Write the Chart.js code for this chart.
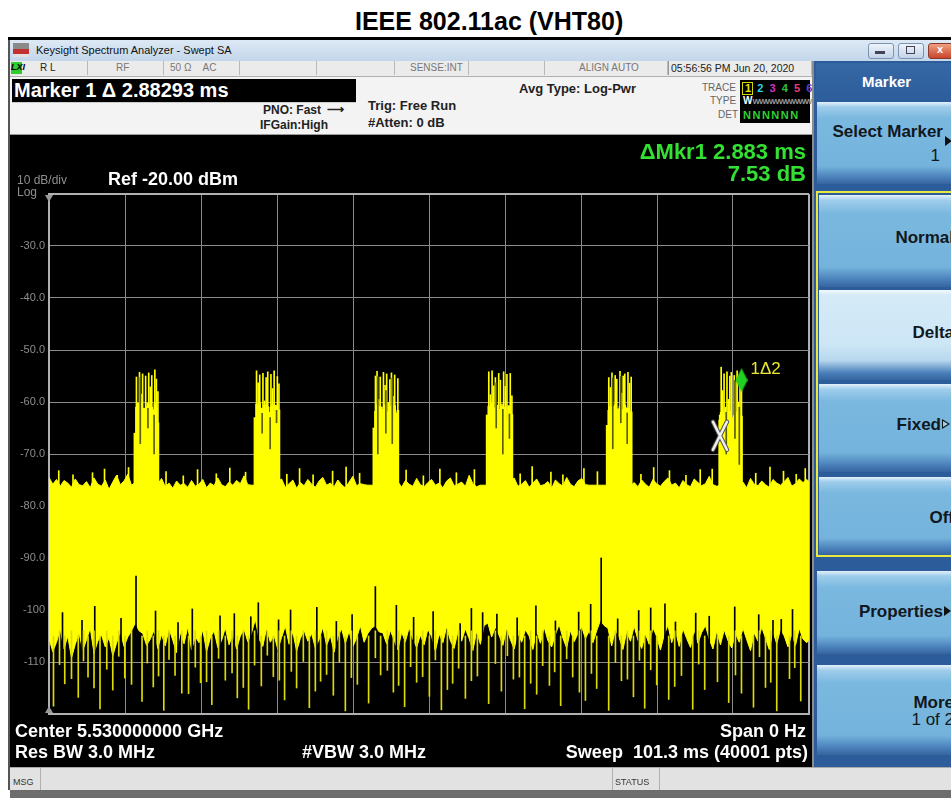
<!DOCTYPE html>
<html>
<head>
<meta charset="utf-8">
<title>IEEE 802.11ac (VHT80)</title>
<script src="https://cdn.jsdelivr.net/npm/chart.js@4.4.1/dist/chart.umd.min.js"></script>
<style>
body{margin:0;width:951px;height:798px;overflow:hidden;position:relative;background:#fff;font-family:"Liberation Sans",Arial,sans-serif;}
.a{position:absolute;white-space:nowrap;line-height:1;}
.b{font-weight:bold;}
.box{position:absolute;}
.key{position:absolute;left:817px;width:150px;background:linear-gradient(#e4f1fa 0,#9fcdeb 6%,#7ab8df 20%,#74b3dc 78%,#4a80ba 92%,#36649f 100%);}
.key.sel{background:linear-gradient(#f2f9fd 0,#d4eaf7 6%,#cde6f5 60%,#b8d8ee 78%,#4a80ba 92%,#36649f 100%);}
.kl{position:absolute;right:-3px;font-weight:bold;font-size:17px;color:#111820;line-height:1;white-space:nowrap;}
.sr{position:absolute;top:61px;height:14px;border-right:1px solid #b8b8b8;}
</style>
</head>
<body>
<div class="a b" style="left:355px;top:9px;font-size:25px;color:#000;">IEEE 802.11ac (VHT80)</div>

<!-- window frame -->
<div class="box" style="left:8px;top:37px;width:943px;height:3px;background:#000;"></div>
<div class="box" style="left:8px;top:40px;width:943px;height:21px;background:linear-gradient(#dde9f5,#c3d6ea);"></div>
<div class="box" style="left:8px;top:40px;width:2px;height:750px;background:#555;"></div>
<div class="box" style="left:13px;top:43px;width:16px;height:14px;background:linear-gradient(#8a8a8a 0,#8a8a8a 45%,#c43030 45%,#c43030 75%,#e0e0e0 75%);"></div>
<div class="a" style="left:36px;top:45px;font-size:11px;color:#111;">Keysight Spectrum Analyzer - Swept SA</div>
<div class="box" style="left:868px;top:43px;width:24px;height:14px;border:1px solid #7d93b0;border-radius:3px;background:linear-gradient(#eef4fb,#c2d3e8);"></div>
<div class="box" style="left:875px;top:51px;width:10px;height:3px;background:#445;"></div>
<div class="box" style="left:898px;top:43px;width:24px;height:14px;border:1px solid #7d93b0;border-radius:3px;background:linear-gradient(#eef4fb,#c2d3e8);"></div>
<div class="box" style="left:906px;top:46px;width:7px;height:6px;border:1px solid #445;"></div>
<div class="box" style="left:928px;top:43px;width:26px;height:14px;border:1px solid #8a3a2a;border-radius:3px;background:linear-gradient(#f0a080,#c8452c);"></div>
<div class="a b" style="left:937px;top:44px;font-size:11px;color:#fff;">x</div>

<!-- status row -->
<div class="box" style="left:10px;top:61px;width:802px;height:15px;background:#ebebeb;border-bottom:1px solid #b0b0b0;"></div>
<div class="box" style="left:11px;top:62px;width:11px;height:12px;background:#2ecc2e;"></div>
<div class="a b" style="left:11px;top:63px;font-size:9px;color:#000;font-style:italic;">LXI</div>
<div class="sr" style="left:10px;width:77px;"></div>
<div class="sr" style="left:88px;width:75px;"></div>
<div class="sr" style="left:164px;width:75px;"></div>
<div class="sr" style="left:240px;width:76px;"></div>
<div class="sr" style="left:317px;width:77px;"></div>
<div class="sr" style="left:395px;width:73px;"></div>
<div class="sr" style="left:469px;width:75px;"></div>
<div class="sr" style="left:545px;width:122px;"></div>
<div class="sr" style="left:668px;width:142px;border-left:1px solid #999;"></div>
<div class="a" style="left:40px;top:63px;font-size:10px;color:#222;">R L</div>
<div class="a" style="left:116px;top:63px;font-size:10px;color:#777;">RF</div>
<div class="a" style="left:170px;top:63px;font-size:10px;color:#777;">50 Ω&nbsp;&nbsp;&nbsp;&nbsp;AC</div>
<div class="a" style="left:410px;top:63px;font-size:10px;color:#777;">SENSE:INT</div>
<div class="a" style="left:579px;top:63px;font-size:10px;color:#777;">ALIGN AUTO</div>
<div class="a" style="left:671px;top:63px;font-size:10.5px;color:#222;">05:56:56 PM Jun 20, 2020</div>

<!-- marker / header area -->
<div class="box" style="left:10px;top:77px;width:802px;height:57px;background:#f3f3f3;border-bottom:2px solid #9a9a9a;"></div>
<div class="box" style="left:12px;top:79px;width:344px;height:23px;background:#000;"></div>
<div class="a b" style="left:14px;top:80px;font-size:20px;color:#fff;">Marker 1 Δ 2.88293 ms</div>
<div class="box" style="left:12px;top:102px;width:344px;height:30px;border-top:1px solid #ccc;"></div>
<div class="a b" style="left:263px;top:104px;font-size:12px;color:#222;">PNO: Fast</div>
<div class="a b" style="left:327px;top:103px;font-size:12px;color:#222;">⟶</div>
<div class="a b" style="left:260px;top:119px;font-size:12px;color:#222;">IFGain:High</div>
<div class="a b" style="left:368px;top:99px;font-size:13px;color:#222;">Trig: Free Run</div>
<div class="a b" style="left:368px;top:116px;font-size:13px;color:#222;">#Atten: 0 dB</div>
<div class="a b" style="left:519px;top:82px;font-size:13px;color:#222;">Avg Type: Log-Pwr</div>
<div class="a" style="left:702px;top:83px;font-size:10px;color:#666;">TRACE</div>
<div class="a" style="left:710px;top:96px;font-size:10px;color:#666;">TYPE</div>
<div class="a" style="left:718px;top:110px;font-size:10px;color:#666;">DET</div>
<div class="box" style="left:740px;top:80px;width:70px;height:43px;background:#000;"></div>
<div class="box" style="left:742px;top:82px;width:9px;height:11px;border:1px solid #d8d800;"></div>
<div class="a b" style="left:745px;top:83px;font-size:11px;"><span style="color:#e8e800">1</span>&nbsp;&nbsp;<span style="color:#30d0e0">2</span>&nbsp;&nbsp;<span style="color:#d030d0">3</span>&nbsp;&nbsp;<span style="color:#30c040">4</span>&nbsp;&nbsp;<span style="color:#e04080">5</span>&nbsp;&nbsp;<span style="color:#6040d0">6</span></div>
<div class="a b" style="left:743px;top:96px;font-size:10px;color:#fff;">W<span style="color:#999;font-size:8px;letter-spacing:-1px;">WWWWWWWWWW</span></div>
<div class="a b" style="left:743px;top:110px;font-size:11px;color:#30d030;letter-spacing:1.5px;">NNNNNN</div>

<!-- screen -->
<div class="box" style="left:10px;top:135px;width:802px;height:632px;background:#000;"></div>
<canvas id="sa" width="806" height="632" style="position:absolute;left:10px;top:135px;width:806px;height:632px;"></canvas>
<div class="box" style="left:812px;top:61px;width:2px;height:706px;background:#8c8c8c;"></div>
<div class="a b" style="right:145px;top:141px;font-size:22px;color:#33e033;">ΔMkr1 2.883 ms</div>
<div class="a b" style="right:145px;top:163px;font-size:22px;color:#33e033;">7.53 dB</div>
<div class="a" style="left:17px;top:174px;font-size:12px;color:#8e8e8e;">10 dB/div</div>
<div class="a b" style="left:108px;top:170px;font-size:18px;color:#fff;">Ref -20.00 dBm</div>
<div class="a" style="left:17px;top:186px;font-size:12px;color:#8e8e8e;">Log</div>
<div class="box" style="left:45px;top:195px;width:0;height:0;border-left:4px solid transparent;border-right:4px solid transparent;border-top:7px solid #9a9a9a;"></div>
<div class="box" style="left:45px;top:706px;width:0;height:0;border-left:4px solid transparent;border-right:4px solid transparent;border-bottom:7px solid #9a9a9a;"></div>
<div class="a b" style="left:15px;top:722px;font-size:18px;color:#fff;">Center 5.530000000 GHz</div>
<div class="a b" style="left:15px;top:743px;font-size:18px;color:#fff;">Res BW 3.0 MHz</div>
<div class="a b" style="left:302px;top:743px;font-size:18px;color:#fff;">#VBW 3.0 MHz</div>
<div class="a b" style="right:145px;top:722px;font-size:18px;color:#fff;">Span 0 Hz</div>
<div class="a b" style="right:143px;top:743px;font-size:18px;color:#fff;">Sweep&nbsp;&nbsp;101.3 ms (40001 pts)</div>

<!-- bottom bar -->
<div class="box" style="left:10px;top:767px;width:941px;height:23px;background:#e2e2e2;border-top:1px solid #aaa;"></div>
<div class="box" style="left:10px;top:790px;width:941px;height:8px;background:#6d6d6d;"></div>
<div class="box" style="left:40px;top:768px;width:1px;height:22px;background:#b0b0b0;"></div>
<div class="box" style="left:612px;top:768px;width:46px;height:22px;border-left:1px solid #b0b0b0;border-right:1px solid #b0b0b0;"></div>
<div class="a" style="left:13px;top:778px;font-size:9px;color:#333;">MSG</div>
<div class="a" style="left:615px;top:778px;font-size:9px;color:#333;">STATUS</div>

<!-- softkey panel -->
<div class="box" style="left:814px;top:61px;width:137px;height:706px;background:#2c5c99;"></div>
<div class="box" style="left:816px;top:63px;width:140px;height:38px;background:linear-gradient(#3668a6,#2d5d9b);"></div>
<div class="a b" style="left:862px;top:74px;font-size:15px;color:#fff;">Marker</div>
<div class="key" style="top:102px;height:82px;"></div>
<div class="kl" style="right:8px;top:123px;">Select Marker</div>
<div class="box" style="left:945px;top:136px;width:0;height:0;border-top:5px solid transparent;border-bottom:5px solid transparent;border-left:7px solid #111;"></div>
<div class="kl" style="right:11px;top:147px;font-weight:normal;">1</div>
<div class="box" style="left:816px;top:191px;width:140px;height:366px;border:2px solid #e8e840;box-sizing:border-box;"></div>
<div class="key" style="top:195px;height:92px;left:819px;"></div>
<div class="kl" style="top:229px;">Normal</div>
<div class="key sel" style="top:290px;height:90px;left:819px;"></div>
<div class="kl" style="top:324px;">Delta</div>
<div class="key" style="top:384px;height:88px;left:819px;"></div>
<div class="kl" style="right:10px;top:416px;">Fixed</div>
<div class="box" style="left:942px;top:419px;width:0;height:0;border-top:5px solid transparent;border-bottom:5px solid transparent;border-left:8px solid #111;"></div>
<div class="box" style="left:943px;top:421px;width:0;height:0;border-top:3px solid transparent;border-bottom:3px solid transparent;border-left:5px solid #9fcdeb;"></div>
<div class="key" style="top:477px;height:78px;left:819px;"></div>
<div class="kl" style="top:509px;">Off</div>
<div class="key" style="top:571px;height:83px;"></div>
<div class="kl" style="right:8px;top:603px;">Properties</div>
<div class="box" style="left:944px;top:606px;width:0;height:0;border-top:5px solid transparent;border-bottom:5px solid transparent;border-left:7px solid #111;"></div>
<div class="key" style="top:665px;height:90px;"></div>
<div class="kl" style="top:694px;">More</div>
<div class="kl" style="top:711px;font-weight:normal;">1 of 2</div>

<script>
'use strict';

var STEP = 0.5;          // ms between floor samples
var SWEEP = 101.3;       // ms, full span of the x axis
var FLOOR_BASE = -80;    // dBm, where burst and spike lines start

// upper edge of the noise floor, one value every 0.5 ms (0 .. 101.5 ms)
var floorTop = [
	-74.5,-75.8,-74.9,-76.2,-75.1,-75.6,-76.4,-74.8,-75.9,-76.1,
	-75.3,-76.5,-74.6,-75.8,-76.2,-75.0,-76.8,-75.4,-74.1,-75.9,
	-75.2,-73.9,-76.0,-75.5,-76.0,-76.0,-76.0,-76.0,-76.0,-75.8,
	-74.7,-76.3,-75.6,-76.6,-75.2,-76.0,-75.7,-76.4,-75.1,-76.2,
	-75.8,-74.9,-76.5,-75.6,-76.1,-74.6,-75.9,-76.3,-75.4,-76.0,
	-75.1,-75.7,-74.2,-75.9,-76.0,-76.0,-76.0,-76.0,-76.0,-76.0,
	-76.0,-75.3,-74.8,-76.4,-75.7,-75.0,-76.6,-75.5,-76.1,-74.9,
	-75.8,-76.4,-75.2,-74.5,-76.0,-75.6,-76.3,-75.0,-75.9,-76.5,
	-75.4,-74.3,-76.1,-75.7,-75.9,-76.0,-76.0,-76.0,-76.0,-76.0,
	-76.0,-76.0,-76.0,-75.3,-76.4,-75.1,-75.8,-76.2,-74.7,-75.9,
	-76.3,-75.5,-74.9,-76.0,-75.6,-76.5,-75.2,-74.6,-76.1,-75.8,
	-75.4,-76.2,-74.1,-75.7,-76.3,-76.0,-76.0,-76.0,-76.0,-76.0,
	-76.0,-76.0,-76.0,-75.5,-74.6,-76.2,-75.8,-75.1,-76.4,-75.6,
	-74.8,-76.1,-75.9,-75.3,-76.6,-75.0,-75.7,-76.2,-74.5,-75.8,
	-76.3,-75.2,-74.7,-75.9,-76.0,-76.0,-76.0,-76.0,-76.0,-76.0,
	-76.0,-76.0,-76.0,-75.6,-74.4,-76.1,-75.5,-76.3,-75.0,-75.8,
	-76.4,-74.9,-75.7,-76.2,-75.3,-74.6,-76.0,-75.6,-76.5,-75.1,
	-75.9,-76.3,-74.8,-75.5,-76.1,-75.7,-74.3,-75.9,-76.2,-76.0,
	-76.0,-76.0,-76.0,-76.0,-76.0,-75.4,-76.5,-74.7,-75.8,-76.1,
	-75.2,-75.9,-76.4,-74.9,-75.6,-76.0,-75.3,-74.5,-76.2,-75.7,
	-74.8,-75.5,-74.9,-75.6
];

// lower edge of the solid yellow band, same time steps
var floorBottom = [
	-105.5,-108.0,-106.2,-103.8,-107.5,-105.0,-109.2,-106.6,-104.4,-107.8,
	-105.7,-103.5,-108.3,-106.0,-104.8,-107.1,-105.3,-108.8,-106.4,-104.1,
	-107.0,-105.2,-104.0,-102.5,-104.0,-104.5,-106.8,-105.6,-103.9,-107.4,
	-104.7,-106.9,-103.6,-105.8,-108.2,-104.3,-106.5,-103.2,-107.7,-105.1,
	-106.3,-103.8,-108.0,-105.4,-104.0,-107.2,-105.9,-103.4,-106.7,-104.6,
	-107.5,-105.0,-103.7,-106.1,-104.4,-101.8,-105.6,-107.0,-103.5,-106.2,
	-104.8,-107.6,-105.3,-103.1,-106.6,-104.2,-107.9,-105.5,-103.9,-106.0,
	-104.5,-107.3,-105.7,-103.3,-106.8,-104.9,-108.1,-105.2,-103.6,-106.4,
	-104.1,-107.0,-105.4,-103.0,-106.2,-104.5,-103.5,-103.0,-104.2,-104.4,
	-106.5,-103.9,-105.8,-107.7,-104.3,-106.1,-103.4,-105.6,-107.2,-104.8,
	-106.7,-103.7,-105.1,-107.9,-104.6,-106.3,-103.2,-105.9,-107.4,-104.2,
	-106.0,-103.6,-105.5,-107.8,-104.1,-106.6,-103.0,-102.5,-105.2,-103.3,
	-104.9,-106.8,-103.5,-105.7,-107.5,-104.4,-106.2,-103.8,-105.0,-107.6,
	-104.0,-106.4,-103.3,-105.9,-107.1,-104.7,-102.8,-105.4,-107.3,-103.9,
	-106.1,-104.5,-103.2,-105.5,-104.0,-106.3,-104.0,-102.0,-103.0,-103.5,
	-106.9,-103.8,-105.3,-107.6,-104.2,-106.0,-103.1,-105.8,-107.4,-104.6,
	-106.6,-103.4,-105.1,-107.7,-104.8,-102.9,-106.3,-104.0,-107.0,-103.6,
	-105.5,-107.2,-103.9,-106.4,-104.3,-103.0,-105.6,-107.5,-104.1,-106.7,
	-103.8,-105.9,-107.3,-104.5,-106.2,-103.5,-105.7,-107.8,-104.4,-106.0,
	-103.3,-105.4,-107.6,-104.2,-106.5,-103.7,-105.0,-107.1,-104.7,-106.8,
	-103.5,-105.6,-106.3,-105.2
];

// short peaks sticking out of the top of the floor
var topSpikeTimes = [1.3, 3.2, 5.8, 7.4, 9.1, 10.6, 15.6, 17.9, 19.8, 22.3, 24.1, 26.2, 31.7, 33.4, 35.2, 37.8, 39.6, 41.4, 47.6, 49.9,
	52.1, 54.3, 56.7, 62.8, 64.4, 66.9, 68.5, 71.3, 73.1, 78.9, 80.6, 82.7, 84.9, 86.8, 88.4, 94.2, 96.1, 97.9, 99.6, 100.8];
var topSpikeLevels = [-73.2, -74.0, -73.6, -72.9, -74.1, -72.6, -73.4, -74.2, -73.0, -73.8, -72.7, -73.5, -73.9, -72.8, -74.0, -73.3, -72.5, -73.7, -73.1, -74.2,
	-72.9, -73.6, -73.0, -73.8, -72.4, -73.5, -74.0, -72.8, -73.4, -73.9, -72.6, -73.2, -74.1, -73.0, -72.9, -73.7, -72.5, -73.3, -73.9, -72.8];

// deep dips hanging below the floor
var bottomSpikeTimes = [0.6, 2.1, 3.9, 5.2, 6.8, 8.5, 10.1, 12.4, 13.9, 15.3, 16.8, 18.6, 20.2, 21.7, 23.5, 25.1, 26.6, 28.3, 29.9, 31.4,
	33.0, 34.7, 36.2, 37.9, 39.5, 41.1, 42.6, 44.2, 45.9, 47.4, 49.0, 50.7, 52.3, 53.8, 55.5, 57.1, 58.6, 60.3, 61.9, 63.4,
	65.0, 66.7, 68.2, 69.8, 71.5, 73.0, 74.6, 76.3, 77.9, 79.4, 81.0, 82.6, 84.3, 85.8, 87.4, 89.1, 90.6, 92.3, 93.9, 95.5,
	97.0, 98.7, 100.2];
var bottomSpikeLevels = [-118.5, -114.2, -116.8, -112.9, -119.0, -115.4, -113.1, -117.6, -114.8, -119.3, -112.6, -116.1, -114.0, -118.2, -113.5, -116.9, -119.1, -114.6, -112.8, -117.3,
	-115.0, -118.8, -113.7, -116.4, -119.4, -114.3, -117.9, -112.5, -115.8, -118.6, -113.9, -116.6, -119.2, -114.1, -117.0, -112.7, -118.0, -115.6, -113.3, -119.0,
	-116.2, -114.5, -118.4, -112.9, -117.4, -115.1, -119.3, -113.6, -116.7, -118.9, -114.4, -117.2, -112.6, -119.1, -115.3, -113.8, -117.8, -116.0, -118.7, -114.9,
	-119.4, -113.2, -117.5];

// shallower dips in between
var shallowDipTimes = [1.4, 3.0, 4.6, 6.0, 7.7, 9.3, 11.0, 13.1, 14.6, 16.0, 17.7, 19.5, 21.0, 22.6, 24.4, 25.9, 27.4, 29.1, 30.7, 32.3,
	33.9, 35.5, 37.0, 38.7, 40.3, 43.5, 45.1, 46.6, 48.2, 49.8, 51.5, 53.1, 54.6, 56.3, 59.5, 61.1, 62.7, 64.2, 65.8, 67.4,
	69.0, 70.7, 72.3, 75.5, 77.1, 78.7, 80.2, 83.4, 86.6, 91.5, 94.7, 96.2, 99.4];
var shallowDipLevels = [-110.5, -113.2, -109.8, -115.0, -111.4, -108.9, -114.3, -110.2, -112.7, -109.5, -116.0, -111.0, -113.8, -109.3, -112.1, -114.9, -110.6, -108.7, -113.5, -111.8,
	-109.9, -115.6, -112.4, -110.0, -113.0, -109.2, -111.6, -114.5, -110.9, -112.8, -109.6, -115.3, -111.2, -113.6, -110.3, -108.8, -112.9, -114.1, -110.7, -111.9,
	-109.4, -115.8, -112.2, -110.1, -113.3, -109.7, -111.5, -114.7, -110.4, -112.5, -109.0, -113.9, -111.1];

// black gaps reaching up into the floor, the tall ones sit at burst starts
var floorGapTimes = [1.8, 4.4, 6.1, 9.6, 14.2, 17.2, 19.1, 22.8, 24.7, 27.9, 30.6, 32.2, 35.7, 38.3, 40.4, 46.3, 48.6, 51.2, 54.8, 56.3,
	59.7, 62.4, 64.9, 67.5, 70.6, 72.2, 75.8, 78.6, 80.2, 83.5, 86.2, 88.0, 91.4, 94.6, 96.5, 99.1, 26.9, 57.8, 82.1, 97.6,
	11.6, 43.5, 73.6];
var floorGapLevels = [-100.5, -102.0, -99.3, -101.6, -100.2, -102.4, -99.8, -101.1, -100.7, -98.6, -101.9, -100.0, -99.5, -102.2, -100.9, -99.1, -101.4, -100.3, -102.6, -99.7,
	-100.8, -101.5, -99.2, -102.1, -100.4, -98.9, -101.7, -100.1, -99.6, -102.3, -100.6, -101.2, -99.4, -100.9, -102.0, -99.9, -101.3, -100.5, -98.8, -101.8,
	-93.5, -95.5, -90.0];

// the six VHT80 bursts: start (ms), length (ms), 16 lines each
var burstStarts = [11.45, 27.45, 43.3, 58.4, 74.4, 89.4];
var burstWidths = [3.07, 3.2, 3.2, 3.3, 3.2, 2.9];
var burstPeaks = [
	[-66.5, -55.2, -61.0, -54.3, -58.5, -54.6, -62.4, -55.0, -60.2, -54.4, -57.1, -54.9, -61.5, -53.8, -55.6, -58.0],
	[-64.0, -54.0, -56.3, -54.8, -61.2, -54.5, -59.8, -55.3, -54.2, -62.0, -54.7, -57.4, -54.0, -60.6, -55.1, -56.5],
	[-65.2, -55.0, -54.1, -59.5, -55.2, -61.0, -54.3, -56.8, -54.6, -60.1, -55.7, -54.4, -58.9, -54.8, -62.3, -55.5],
	[-63.5, -54.2, -58.6, -54.0, -56.9, -55.3, -62.1, -54.5, -55.8, -60.4, -54.2, -57.0, -54.7, -61.3, -54.5, -58.8],
	[-65.0, -55.3, -57.2, -54.4, -60.8, -54.9, -55.6, -62.0, -54.1, -58.3, -55.0, -54.6, -61.1, -54.3, -56.4, -55.2],
	[-62.5, -53.3, -57.8, -54.6, -61.0, -54.2, -59.5, -55.0, -54.3, -63.0, -54.9, -56.2, -54.0, -60.0, -55.6, -57.0]
];
var burstBody = [
	[-66.0, -61.0, -60.2, -61.5, -60.0, -62.0, -61.2, -63.0, -60.8, -60.4, -62.2, -61.0, -63.5, -60.3, -61.1, -64.0],
	[-63.0, -60.4, -61.0, -60.2, -62.5, -61.3, -60.6, -62.0, -60.9, -63.2, -61.0, -60.5, -61.8, -62.6, -60.7, -61.5],
	[-65.0, -61.8, -60.5, -62.0, -60.9, -61.4, -63.0, -60.6, -61.9, -62.4, -60.8, -61.2, -63.4, -60.7, -62.1, -61.6],
	[-62.5, -60.8, -61.5, -60.3, -62.8, -61.1, -60.6, -63.0, -61.4, -60.9, -62.2, -61.0, -63.6, -60.7, -61.8, -62.4],
	[-64.5, -61.6, -60.9, -62.3, -61.0, -60.5, -62.9, -61.3, -60.8, -63.1, -61.5, -60.6, -62.0, -61.2, -63.3, -61.9],
	[-63.5, -62.0, -61.5, -63.0, -62.4, -65.0, -62.1, -61.8, -63.4, -68.0, -62.6, -61.9, -63.2, -62.3, -66.0, -62.7]
];
// darker trace lines running through each burst
var burstGapIdx = [[3, 8, 12], [4, 9, 13], [2, 7, 11], [5, 9, 13], [3, 8, 12], [4, 10, 13]];
var burstGapLow = [[-68, -65, -70], [-66, -69, -64], [-70, -66, -68], [-65, -70, -67], [-69, -64, -68], [-70, -67, -72]];

// marker 1 (reference X) and marker 1 delta 2 (diamond)
var markerRef = {x: 89.43, y: -66.5};
var markerDelta = {x: 92.31, y: -55.8};

var colors = {
	trace : '#ffff00',
	traceDip : '#dcdc00',
	traceDark : '#5c5c00',
	grid : '#8a8a8a',
	frame : '#b0b0b0',
	tick : '#8e8e8e',
	marker : '#22d022'
};

function floorPoints(arr) {
	return arr.map(function(v, i) { return {x: i * STEP, y: v}; });
}
function lines(times, levels, from) {
	return times.map(function(t, i) { return {x: t, y: [from, levels[i]]}; });
}

var topSpikes = lines(topSpikeTimes, topSpikeLevels, -76.5);
var deepDips = lines(bottomSpikeTimes, bottomSpikeLevels, -105);
var shallowDips = lines(shallowDipTimes, shallowDipLevels, -104);
var floorGaps = lines(floorGapTimes, floorGapLevels, -108);

var burstBars = [], burstLines = [], burstGaps = [];
burstStarts.forEach(function(t0, b) {
	var dt = burstWidths[b] / (burstPeaks[b].length - 1);
	burstPeaks[b].forEach(function(p, k) {
		burstLines.push({x: t0 + k * dt, y: [FLOOR_BASE, p]});
		burstBars.push({x: t0 + k * dt, y: [FLOOR_BASE, burstBody[b][k]]});
	});
	burstGapIdx[b].forEach(function(k, g) {
		burstGaps.push({x: t0 + (k + 0.5) * dt, y: [burstGapLow[b][g], burstPeaks[b][k] - 1]});
	});
});

// elongated green diamond for the delta marker
var diamond = document.createElement('canvas');
diamond.width = 12;
diamond.height = 24;
(function() {
	var c = diamond.getContext('2d');
	c.fillStyle = colors.marker;
	c.beginPath();
	c.moveTo(6, 0); c.lineTo(12, 12); c.lineTo(6, 24); c.lineTo(0, 12);
	c.closePath();
	c.fill();
})();

var markerText = {
	id : 'markerText',
	afterDatasetsDraw : function(chart) {
		var x = chart.scales.x, y = chart.scales.y, ctx = chart.ctx;
		var px = x.getPixelForValue(markerRef.x), py = y.getPixelForValue(markerRef.y);
		ctx.save();
		ctx.lineCap = 'round';
		[['#555', 4.5], ['#f0f0f0', 2.5]].forEach(function(s) {
			ctx.strokeStyle = s[0];
			ctx.lineWidth = s[1];
			ctx.beginPath();
			ctx.moveTo(px - 7, py - 14); ctx.lineTo(px + 7, py + 14);
			ctx.moveTo(px + 7, py - 14); ctx.lineTo(px - 7, py + 14);
			ctx.stroke();
		});
		var dx = x.getPixelForValue(markerDelta.x), dy = y.getPixelForValue(markerDelta.y);
		ctx.fillStyle = '#e8e830';
		ctx.font = '17px "Liberation Sans", Arial, sans-serif';
		ctx.textBaseline = 'middle';
		ctx.fillText('1\u03942', dx + 9, dy - 11);
		ctx.restore();
	}
};

function lineSet(label, data, color, width, order) {
	return {
		type : 'bar',
		label : label,
		data : data,
		backgroundColor : color,
		barThickness : width,
		grouped : false,
		order : order
	};
}

new Chart(document.getElementById('sa'), {
	type : 'line',
	data : {
		datasets : [ {
			label : 'Floor top',
			data : floorPoints(floorTop),
			borderColor : colors.trace,
			backgroundColor : colors.trace,
			borderWidth : 1,
			pointRadius : 0,
			fill : '+1',
			order : 9
		}, {
			label : 'Floor bottom',
			data : floorPoints(floorBottom),
			borderColor : colors.trace,
			borderWidth : 1,
			pointRadius : 0,
			fill : false,
			order : 9
		},
			lineSet('Floor gaps', floorGaps, '#000', 1, 8),
			lineSet('Deep dips', deepDips, colors.traceDip, 1, 7),
			lineSet('Shallow dips', shallowDips, colors.traceDip, 1, 7),
			lineSet('Floor peaks', topSpikes, colors.trace, 1, 4),
			lineSet('Burst body', burstBars, colors.trace, 2, 3),
			lineSet('Burst peaks', burstLines, colors.trace, 1, 2),
			lineSet('Burst trace', burstGaps, colors.traceDark, 1, 1),
		{
			label : 'Marker 1\u03942',
			data : [markerDelta],
			showLine : false,
			pointStyle : diamond,
			pointRadius : 6,
			order : 0
		} ]
	},
	options : {
		responsive : false,
		animation : false,
		devicePixelRatio : 1,
		layout : {
			padding : {top : 59, right : 0, left : 0, bottom : 0}
		},
		plugins : {
			legend : {display : false},
			tooltip : {enabled : false}
		},
		scales : {
			x : {
				type : 'linear',
				min : 0,
				max : SWEEP,
				offset : false,
				afterBuildTicks : function(scale) {
					var t = [];
					for (var i = 0; i <= 10; i++) t.push({value : i * SWEEP / 10});
					scale.ticks = t;
				},
				afterFit : function(scale) { scale.height = 53; },
				grid : {
					offset : false,
					drawTicks : false,
					color : function(c) { return (c.index === 0 || c.index === 10) ? colors.frame : colors.grid; },
					lineWidth : function(c) { return (c.index === 0 || c.index === 10) ? 2 : 1; }
				},
				border : {display : true, color : colors.frame, width : 2},
				ticks : {display : false}
			},
			y : {
				min : -120,
				max : -20,
				afterBuildTicks : function(scale) {
					var t = [];
					for (var v = -120; v <= -20; v += 10) t.push({value : v});
					scale.ticks = t;
				},
				afterFit : function(scale) { scale.width = 39; },
				grid : {
					drawTicks : false,
					color : function(c) { return (c.tick && (c.tick.value === -20 || c.tick.value === -120)) ? colors.frame : colors.grid; },
					lineWidth : function(c) { return (c.tick && (c.tick.value === -20 || c.tick.value === -120)) ? 2 : 1; }
				},
				border : {display : true, color : colors.frame, width : 2},
				ticks : {
					padding : 4,
					color : colors.tick,
					font : {size : 11, family : "'Liberation Sans', Arial, sans-serif"},
					callback : function(v) {
						if (v === -20 || v === -120) return '';
						return v > -100 ? v.toFixed(1) : String(v);
					}
				}
			}
		}
	},
	plugins : [markerText]
});
</script>
</body>
</html>
